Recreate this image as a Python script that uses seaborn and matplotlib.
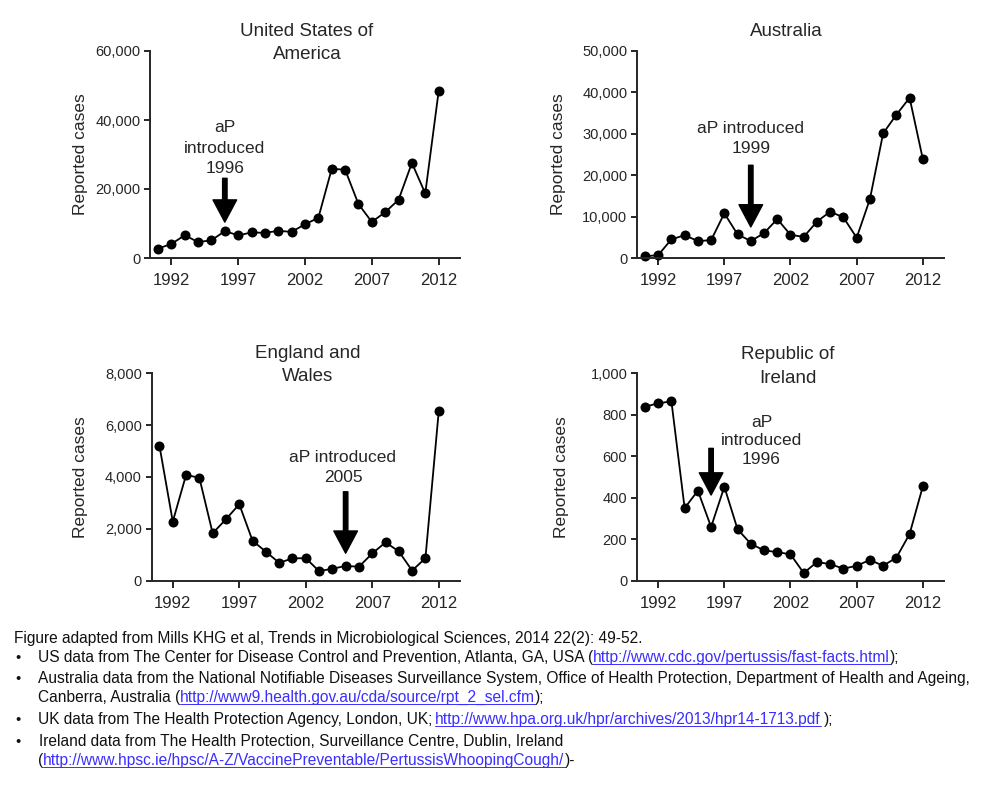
import matplotlib
matplotlib.use("Agg")
import matplotlib.pyplot as plt
import seaborn as sns
import pandas as pd
from matplotlib.ticker import FuncFormatter
from matplotlib.lines import Line2D

# reported pertussis cases per year
years = list(range(1991, 2013))

usa_cases = [2719, 4083, 6586, 4617, 5137, 7796, 6564, 7405, 7298, 7867, 7580,
             9771, 11647, 25827, 25616, 15632, 10454, 13278, 16858, 27550, 18719, 48277]
australia_cases = [400, 700, 4500, 5500, 4100, 4300, 10800, 5700, 4100, 6000, 9400,
                   5600, 5100, 8800, 11200, 9800, 4900, 14200, 30100, 34600, 38700, 23900]
england_cases = [5200, 2280, 4080, 3970, 1830, 2370, 2950, 1540, 1120, 690, 860,
                 870, 370, 460, 570, 540, 1050, 1480, 1130, 390, 870, 6530]
ireland_cases = [839, 855, 865, 350, 434, 259, 453, 248, 178, 146, 138,
                 127, 37, 90, 80, 58, 72, 100, 72, 111, 225, 455]

titles = ["United States of\nAmerica", "Australia", "England and\nWales", "Republic of\nIreland"]
intro_years = [1996, 1999, 2005, 1996]
intro_labels = ["aP\nintroduced\n1996", "aP introduced\n1999", "aP introduced\n2005", "aP\nintroduced\n1996"]
y_maxes = [60000, 50000, 8000, 1000]
y_steps = [20000, 10000, 2000, 200]
x_ticks = [1992, 1997, 2002, 2007, 2012]

W, H = 1000, 791
LINK = "#3a2eff"

sns.set_style("ticks")
plt.rcParams['font.family'] = ['Liberation Sans', 'DejaVu Sans']

fig = plt.figure(figsize=(W / 100, H / 100), dpi=100)


def px(x, y):
    return x / W, 1 - y / H


# panel boxes in pixels: left, top, right, bottom
boxes = [(150, 51, 460, 258), (637, 51, 944, 258),
         (151.5, 373.3, 460, 580.7), (637, 373.3, 944, 580.7)]
# arrow tip / tail and label placement in data units
arrows = [(10400, 23100), (7500, 22400), (1060, 3430), (413, 638)]
label_pos = [(1996.0, 31800), (1999.0, 28800), (2004.8, 4370), (1999.8, 675)]
label_spacing = [1.45, 1.45, 1.45, 1.3]
title_pos = [(307, 43), (786, 31), (308, 365), (788, 366.5)]
ylabel_x = [-0.2, -0.23, -0.205, -0.222]

series = [usa_cases, australia_cases, england_cases, ireland_cases]

for i, cases in enumerate(series):
    l, t, r, b = boxes[i]
    ax = fig.add_axes([l / W, 1 - b / H, (r - l) / W, (b - t) / H])
    df = pd.DataFrame({"Year": years, "Cases": cases})
    sns.lineplot(data=df, x="Year", y="Cases", ax=ax, color="black",
                 marker="o", markersize=7.2, linewidth=1.3,
                 markeredgecolor="black", markeredgewidth=0, clip_on=False)

    ax.set_xlim(1990.4, 2013.6)
    ax.set_ylim(0, y_maxes[i])
    ax.set_xticks(x_ticks)
    ax.set_yticks(range(0, y_maxes[i] + 1, y_steps[i]))
    ax.yaxis.set_major_formatter(FuncFormatter(lambda v, p: f"{v:,.0f}"))
    ax.tick_params(axis="x", labelsize=12, length=5, width=1.4, pad=6)
    ax.tick_params(axis="y", labelsize=10.5, length=4, width=1.4, pad=3)
    for s in ["left", "bottom"]:
        ax.spines[s].set_linewidth(1.4)
    sns.despine(ax=ax)

    ax.set_xlabel("")
    ax.set_ylabel("Reported cases", fontsize=12.5)
    ax.yaxis.set_label_coords(ylabel_x[i], 0.5)

    tip, tail = arrows[i]
    ax.annotate("", xy=(intro_years[i], tip), xytext=(intro_years[i], tail),
                arrowprops=dict(facecolor="black", edgecolor="black", width=3.2,
                                headwidth=17, headlength=16, shrink=0))
    lx, ly = label_pos[i]
    ax.text(lx, ly, intro_labels[i], ha="center", va="center", fontsize=12.5,
            linespacing=label_spacing[i])

    tx, ty = title_pos[i]
    fig.text(*px(tx, ty), titles[i], ha="center", va="center", fontsize=13.5,
             linespacing=1.5)

# footnote with coloured, underlined links
renderer = fig.canvas.get_renderer()


def rich_line(x0, base, parts, size=11.2):
    x = x0
    for text, is_link, gap in parts:
        color = LINK if is_link else "#111111"
        t = fig.text(*px(x, base), text, color=color, fontsize=size,
                     ha="left", va="baseline")
        bb = t.get_window_extent(renderer)
        if is_link:
            yy = 1 - (base + 2) / H
            fig.add_artist(Line2D([bb.x0 / W, bb.x1 / W], [yy, yy],
                                  transform=fig.transFigure, color=LINK, lw=0.7))
        x = bb.x1 + gap


rich_line(14, 643, [("Figure adapted from Mills KHG et al, Trends in Microbiological Sciences, 2014 22(2): 49-52.", False, 0)])
for yb in [662, 683, 724, 746]:
    fig.text(*px(15, yb), "\u2022", fontsize=10.5, ha="left", va="baseline", color="#111111")
rich_line(38, 662, [("US data from The Center for Disease Control and Prevention, Atlanta, GA, USA (", False, 0),
                    ("http://www.cdc.gov/pertussis/fast-facts.html", True, 0),
                    (");", False, 0)])
rich_line(38, 683, [("Australia data from the National Notifiable Diseases Surveillance System, Office of Health Protection, Department of Health and Ageing,", False, 0)])
rich_line(38, 702, [("Canberra, Australia (", False, 0),
                    ("http://www9.health.gov.au/cda/source/rpt_2_sel.cfm", True, 0),
                    (");", False, 0)])
rich_line(38, 724, [("UK data from The Health Protection Agency, London, UK;", False, 3),
                    ("http://www.hpa.org.uk/hpr/archives/2013/hpr14-1713.pdf", True, 3),
                    (");", False, 0)])
rich_line(39, 746, [("Ireland data from The Health Protection, Surveillance Centre, Dublin, Ireland", False, 0)])
rich_line(38, 765, [("(", False, 0),
                    ("http://www.hpsc.ie/hpsc/A-Z/VaccinePreventable/PertussisWhoopingCough/", True, 0),
                    (")-", False, 0)])

fig.savefig("out.png", dpi=100)
plt.close(fig)
